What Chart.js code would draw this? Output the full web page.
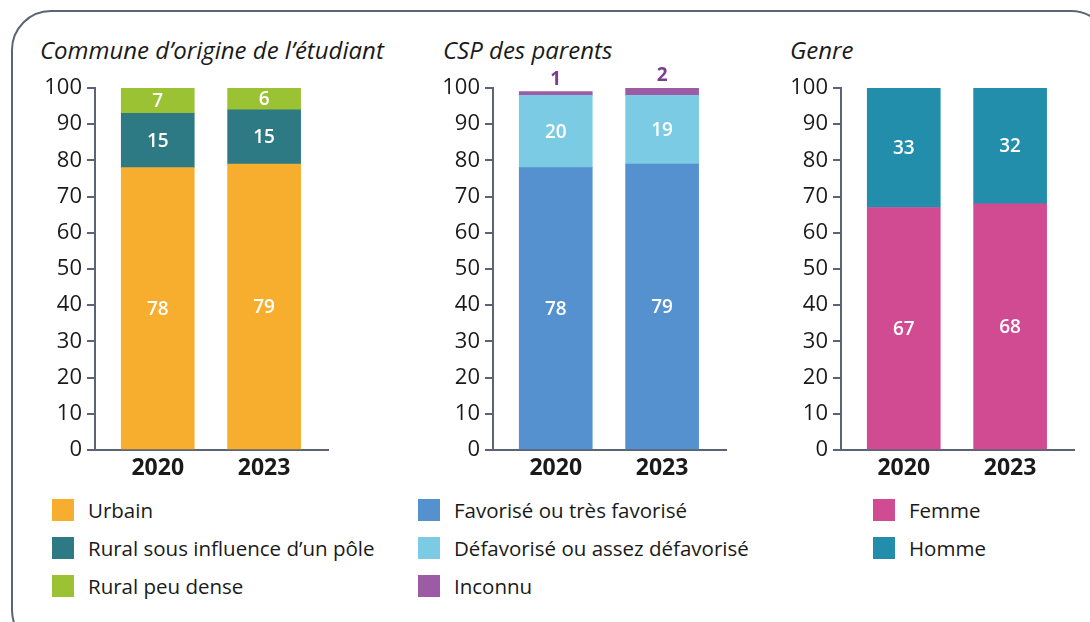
<!DOCTYPE html>
<html>
<head>
<meta charset="utf-8">
<script src="https://cdn.jsdelivr.net/npm/chart.js@4/dist/chart.umd.min.js"></script>
<style>
  body { margin: 0; background: #fff; font-family: "Open Sans", sans-serif; color: #1a1a1a; }
  #page { position: relative; width: 1090px; height: 622px; overflow: hidden; }
  #frame { position: absolute; left: 11px; top: 10px; width: 1100px; height: 640px;
           border: 2px solid #5b6374; border-radius: 40px; box-sizing: border-box; }
  .title { position: absolute; top: 35px; font-size: 24px; line-height: 30px; font-style: italic; white-space: nowrap; }
  .box { position: absolute; top: 58px; width: 289px; height: 432px; }
  .legend { position: absolute; top: 499px; }
  .legend div { position: relative; height: 38px; font-size: 20.5px; white-space: nowrap; }
  .legend span.sw { position: absolute; left: 0; top: 0; width: 22px; height: 22px; }
  .legend span.tx { position: absolute; left: 36px; top: 0; line-height: 22px; }
</style>
</head>
<body>
<div id="page">
  <div id="frame"></div>
  <div class="title" style="left:40px">Commune d’origine de l’étudiant</div>
  <div class="title" style="left:443px">CSP des parents</div>
  <div class="title" style="left:790px">Genre</div>
  <div class="box" style="left:40px"><canvas id="c1"></canvas></div>
  <div class="box" style="left:438px"><canvas id="c2"></canvas></div>
  <div class="box" style="left:786px"><canvas id="c3"></canvas></div>
  <div class="legend" id="l1" style="left:52px"></div>
  <div class="legend" id="l2" style="left:418px"></div>
  <div class="legend" id="l3" style="left:873px"></div>
</div>
<script>
'use strict';

// data
const years = ['2020', '2023'];

const communeLabels = ['Urbain', 'Rural sous influence d’un pôle', 'Rural peu dense'];
const urbain = [78, 79];
const ruralPole = [15, 15];
const ruralPeuDense = [7, 6];

const cspLabels = ['Favorisé ou très favorisé', 'Défavorisé ou assez défavorisé', 'Inconnu'];
const favorise = [78, 79];
const defavorise = [20, 19];
const inconnu = [1, 2];

const genreLabels = ['Femme', 'Homme'];
const femme = [67, 68];
const homme = [33, 32];

const communeColors = ['#f7ae2e', '#2e7a84', '#9bc232'];
const cspColors = ['#5591cf', '#7bcbe4', '#9b5ba5'];
const genreColors = ['#d14b93', '#228eab'];

const axisColor = '#5b6374';
const font = '"Open Sans", sans-serif';

// value labels inside the segments (or above, for the thin top one)
const segLabels = {
  id: 'segLabels',
  afterDatasetsDraw(chart, args, opts) {
    const ctx = chart.ctx;
    ctx.save();
    ctx.textAlign = 'center';
    ctx.textBaseline = 'middle';
    chart.data.datasets.forEach((ds, di) => {
      const meta = chart.getDatasetMeta(di);
      meta.data.forEach((bar, i) => {
        const v = ds.data[i].y;
        if (opts.outside === di) {
          ctx.fillStyle = opts.outsideColor;
          ctx.font = '700 19px ' + font;
          ctx.fillText(v, bar.x, bar.y - 12);
        } else {
          ctx.fillStyle = '#fff';
          ctx.font = '600 19px ' + font;
          ctx.fillText(v, bar.x, (bar.y + bar.base) / 2 + 1);
        }
      });
    });
    ctx.restore();
  }
};

function makeChart(id, labels, series, colors, outside) {
  new Chart(document.getElementById(id), {
    type: 'bar',
    data: {
      datasets: series.map((vals, k) => ({
        label: labels[k],
        data: vals.map((v, i) => ({ x: i, y: v })),
        backgroundColor: colors[k],
        borderWidth: 0,
        barThickness: 73
      }))
    },
    options: {
      responsive: true,
      maintainAspectRatio: false,
      animation: false,
      layout: { padding: { top: 30, left: 0, right: 0, bottom: 0 } },
      plugins: {
        legend: { display: false },
        tooltip: { enabled: false },
        segLabels: { outside: outside, outsideColor: '#7b3e8e' }
      },
      scales: {
        x: {
          type: 'linear',
          offset: false,
          stacked: true,
          min: -0.59,
          max: 1.61,
          afterBuildTicks: s => { s.ticks = years.map((y, i) => ({ value: i })); },
          afterFit: s => { s.height = 40; },
          grid: { display: false, drawTicks: false },
          border: { display: true, color: axisColor, width: 2 },
          ticks: {
            padding: 5,
            color: '#1a1a1a',
            font: { family: font, size: 23, weight: 'bold' },
            callback: v => years[v]
          }
        },
        y: {
          stacked: true,
          min: 0,
          max: 100,
          afterFit: s => { s.width = 55; },
          grid: { drawOnChartArea: false, drawTicks: true, tickLength: 8, color: axisColor, lineWidth: 2 },
          border: { display: true, color: axisColor, width: 2 },
          ticks: {
            stepSize: 10,
            padding: 5,
            color: '#1a1a1a',
            font: { family: font, size: 22 }
          }
        }
      }
    },
    plugins: [segLabels]
  });
}

function makeLegend(id, labels, colors) {
  const el = document.getElementById(id);
  labels.forEach((lab, k) => {
    const row = document.createElement('div');
    row.innerHTML = '<span class="sw" style="background:' + colors[k] + '"></span><span class="tx"></span>';
    row.querySelector('.tx').textContent = lab;
    el.appendChild(row);
  });
}

makeChart('c1', communeLabels, [urbain, ruralPole, ruralPeuDense], communeColors, -1);
makeChart('c2', cspLabels, [favorise, defavorise, inconnu], cspColors, 2);
makeChart('c3', genreLabels, [femme, homme], genreColors, -1);

makeLegend('l1', communeLabels, communeColors);
makeLegend('l2', cspLabels, cspColors);
makeLegend('l3', genreLabels, genreColors);
</script>
</body>
</html>
